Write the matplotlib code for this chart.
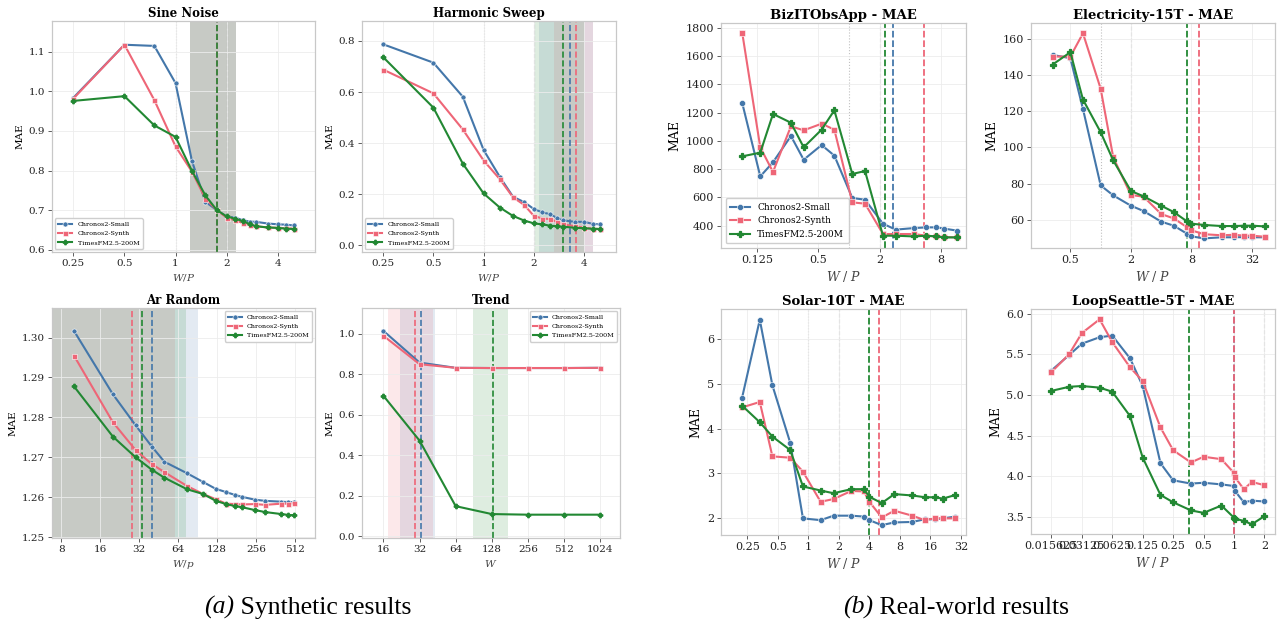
"""
Window-size sweep: MAE vs W/P on synthetic and real-world series.
"""

import numpy as np
import matplotlib
matplotlib.use("Agg")
import matplotlib.pyplot as plt
from matplotlib.ticker import FuncFormatter, NullLocator, FormatStrFormatter

plt.rcParams["font.family"] = "serif"
plt.rcParams["font.serif"] = ["DejaVu Serif"]
plt.rcParams["mathtext.fontset"] = "dejavuserif"

MODELS = ["Chronos2-Small", "Chronos2-Synth", "TimesFM2.5-200M"]
COLORS = {"Chronos2-Small": "#4477AA", "Chronos2-Synth": "#EE6677", "TimesFM2.5-200M": "#228833"}
MARKERS = {"Chronos2-Small": "o", "Chronos2-Synth": "s", "TimesFM2.5-200M": "P"}
MSCALE = {"Chronos2-Small": 1.0, "Chronos2-Synth": 1.0, "TimesFM2.5-200M": 0.9}
# the filled plus gets an edge in its own colour so its arms stay thick
MEC = {"Chronos2-Small": "white", "Chronos2-Synth": "white", "TimesFM2.5-200M": "#228833"}
MEW = {"Chronos2-Small": 0.4, "Chronos2-Synth": 0.4, "TimesFM2.5-200M": 0.9}

# ---- synthetic: sine noise / harmonic sweep (x = W/P) ----------------
syn_x = [0.25, 0.5, 0.75, 1.0, 1.25, 1.5, 1.75, 2.0, 2.25, 2.5, 2.75, 3.0, 3.5, 4.0, 4.5, 5.0]

sine_small = [0.984, 1.118, 1.115, 1.021, 0.824, 0.721, 0.700, 0.683, 0.681, 0.674, 0.671, 0.670, 0.666, 0.664, 0.663, 0.661]
sine_synth = [0.982, 1.118, 0.978, 0.861, 0.797, 0.729, 0.700, 0.681, 0.674, 0.667, 0.662, 0.659, 0.656, 0.655, 0.654, 0.653]
sine_tfm = [0.976, 0.988, 0.914, 0.885, 0.799, 0.737, 0.700, 0.684, 0.678, 0.672, 0.664, 0.659, 0.656, 0.655, 0.653, 0.652]

harm_small = [0.787, 0.715, 0.582, 0.373, 0.268, 0.190, 0.169, 0.142, 0.129, 0.122, 0.107, 0.098, 0.092, 0.092, 0.084, 0.082]
harm_synth = [0.688, 0.595, 0.454, 0.332, 0.259, 0.188, 0.158, 0.115, 0.105, 0.103, 0.092, 0.082, 0.075, 0.069, 0.065, 0.064]
harm_tfm = [0.737, 0.539, 0.320, 0.203, 0.148, 0.115, 0.097, 0.086, 0.082, 0.077, 0.075, 0.073, 0.069, 0.067, 0.065, 0.064]

# ---- synthetic: AR random (x = W/p) ---------------------------------
ar_x = [10, 20, 30, 40, 50, 75, 100, 125, 150, 175, 200, 250, 300, 400, 450, 500]
ar_small = [1.3017, 1.2858, 1.2780, 1.2727, 1.2689, 1.2660, 1.2638, 1.2621, 1.2613, 1.2606, 1.2601, 1.2594, 1.2591, 1.2589, 1.2588, 1.2588]
ar_synth = [1.2955, 1.2788, 1.2718, 1.2683, 1.2663, 1.2628, 1.2608, 1.2595, 1.2584, 1.2583, 1.2582, 1.2583, 1.2581, 1.2584, 1.2584, 1.2585]
ar_tfm = [1.2878, 1.2752, 1.2700, 1.2669, 1.2649, 1.2620, 1.2608, 1.2591, 1.2583, 1.2578, 1.2575, 1.2568, 1.2563, 1.2558, 1.2556, 1.2555]

# ---- synthetic: trend (x = W) ----------------------------------------
trend_x = [16, 32, 64, 128, 256, 512, 1024]
trend_small = [1.013, 0.857, 0.831, 0.830, 0.830, 0.830, 0.831]
trend_synth = [0.989, 0.849, 0.831, 0.830, 0.830, 0.830, 0.831]
trend_tfm = [0.693, 0.472, 0.149, 0.110, 0.107, 0.107, 0.107]

# predicted best window (dashed) and its range (shaded), per model
sine_best = {"Chronos2-Small": (1.75, 1.22, 2.28), "Chronos2-Synth": (1.75, 1.21, 2.27), "TimesFM2.5-200M": (1.75, 1.22, 2.27)}
harm_best = {"Chronos2-Small": (3.3, 2.14, 4.5), "Chronos2-Synth": (3.57, 2.65, 4.5), "TimesFM2.5-200M": (3.0, 2.0, 4.0)}
ar_best = {"Chronos2-Small": (40, 4, 91.3), "Chronos2-Synth": (28.1, 4, 60.4), "TimesFM2.5-200M": (33.6, 4, 73.4)}
trend_best = {"Chronos2-Small": (32.8, 22.1, 43.3), "Chronos2-Synth": (29.3, 17.4, 41.2), "TimesFM2.5-200M": (132, 89.4, 175.5)}

# ---- real-world datasets ---------------------------------------------
biz_x = [0.09, 0.135, 0.18, 0.27, 0.36, 0.54, 0.72, 1.08, 1.44, 2.16, 2.88, 4.32, 5.76, 7.2, 8.64, 11.52]
biz_small = [1266, 749, 849, 1035, 867, 971, 896, 596, 584, 414, 372, 383, 388, 388, 379, 365]
biz_synth = [1762, 955, 780, 1104, 1075, 1122, 1080, 565, 556, 341, 341, 341, 329, 324, 320, 317]
biz_tfm = [891, 917, 1191, 1129, 955, 1080, 1217, 766, 787, 329, 329, 324, 329, 324, 317, 317]

elec_x = [0.333, 0.5, 0.667, 1.0, 1.333, 2.0, 2.667, 4.0, 5.333, 7.2, 8.0, 10.67, 16.0, 21.33, 26.67, 32.0, 42.67]
elec_small = [151.0, 149.2, 121.2, 79.1, 73.6, 67.9, 65.0, 59.1, 56.9, 52.5, 51.0, 49.9, 50.5, 50.5, 50.6, 50.5, 50.5]
elec_synth = [150.1, 150.1, 162.9, 132.4, 94.6, 73.8, 72.9, 63.3, 60.9, 56.1, 54.3, 52.2, 51.6, 51.9, 51.4, 51.4, 50.8]
elec_tfm = [145.7, 152.5, 126.4, 108.4, 92.9, 76.0, 73.1, 67.9, 64.4, 59.3, 58.0, 57.3, 56.7, 56.7, 56.9, 56.9, 56.5]

solar_x = [0.221, 0.331, 0.441, 0.662, 0.883, 1.32, 1.77, 2.65, 3.53, 4.0, 5.3, 7.06, 10.6, 14.1, 17.7, 21.2, 28.3]
solar_small = [4.68, 6.42, 4.96, 3.68, 2.00, 1.96, 2.06, 2.06, 2.04, 1.96, 1.85, 1.91, 1.92, 1.98, 1.98, 2.00, 2.04]
solar_synth = [4.47, 4.59, 3.38, 3.35, 3.04, 2.37, 2.43, 2.61, 2.60, 2.37, 2.02, 2.17, 2.06, 1.96, 2.00, 2.00, 2.00]
solar_tfm = [4.51, 4.14, 3.82, 3.52, 2.71, 2.62, 2.56, 2.65, 2.65, 2.48, 2.34, 2.54, 2.51, 2.47, 2.47, 2.44, 2.52]

loop_x = [0.015625, 0.0234, 0.03125, 0.0469, 0.0625, 0.09375, 0.125, 0.1875, 0.25, 0.375, 0.5, 0.75, 1.0, 1.02, 1.25, 1.5, 2.0]
loop_small = [5.30, 5.49, 5.63, 5.71, 5.73, 5.45, 5.11, 4.16, 3.95, 3.91, 3.92, 3.90, 3.88, 3.82, 3.68, 3.70, 3.69]
loop_synth = [5.28, 5.50, 5.76, 5.93, 5.65, 5.34, 5.17, 4.60, 4.32, 4.17, 4.24, 4.21, 4.04, 3.99, 3.84, 3.93, 3.89]
loop_tfm = [5.05, 5.10, 5.11, 5.09, 5.04, 4.74, 4.23, 3.77, 3.68, 3.58, 3.55, 3.64, 3.49, 3.48, 3.45, 3.41, 3.51]

biz_best = {"Chronos2-Small": 2.71, "Chronos2-Synth": 5.51, "TimesFM2.5-200M": 2.24}
elec_best = {"Chronos2-Synth": 9.46, "TimesFM2.5-200M": 7.19}
solar_best = {"Chronos2-Synth": 4.95, "TimesFM2.5-200M": 3.97}
loop_best = {"Chronos2-Small": 1.0, "Chronos2-Synth": 1.0, "TimesFM2.5-200M": 0.357}

W, H = 1280, 619
fig = plt.figure(figsize=(W / 100, H / 100), dpi=100)


def box(l, t, r, b):
    return [l / W, 1 - b / H, (r - l) / W, (b - t) / H]


def style_axes(ax, xticks, xlim, ylim, yticks, yfmt, tsize=7.5):
    ax.set_xscale("log", base=2)
    ax.set_xticks(xticks)
    ax.xaxis.set_major_formatter(FuncFormatter(lambda v, _: f"{v:g}"))
    ax.xaxis.set_minor_locator(NullLocator())
    ax.set_xlim(*xlim)
    ax.set_ylim(*ylim)
    ax.set_yticks(yticks)
    ax.yaxis.set_major_formatter(FormatStrFormatter(yfmt))
    ax.grid(True, color="#ececec", lw=0.6)
    ax.set_axisbelow(True)
    for sp in ax.spines.values():
        sp.set_color("#c8c8c8")
        sp.set_linewidth(0.9)
    ax.tick_params(labelsize=tsize, length=3, width=0.6, color="#444444",
                   labelcolor="#222222", pad=2)


def plot_models(ax, x, ys, lw, ms):
    for name, y in zip(MODELS, ys):
        ax.plot(x, y, color=COLORS[name], marker=MARKERS[name], lw=lw,
                ms=ms * MSCALE[name], mec=MEC[name], mew=MEW[name], label=name, zorder=3)


def ref_lines(ax):
    ax.axvline(1, color="#c0c0c0", lw=0.8, ls=":", zorder=0.3)
    ax.axvline(2, color="#c0c0c0", lw=0.8, ls="--", zorder=0.3)


def synth_panel(rect, title, x, ys, best, xlabel, xticks, xlim, ylim, yticks, yfmt,
                legend_loc, refs=True):
    ax = fig.add_axes(box(*rect))
    if refs:
        ref_lines(ax)
    for name in MODELS:
        c, lo, hi = best[name]
        ax.axvspan(lo, hi, color=COLORS[name], alpha=0.15, lw=0, zorder=0.5)
    for name in MODELS:
        ax.axvline(best[name][0], color=COLORS[name], lw=1.2, ls="--", zorder=2)
    plot_models(ax, x, ys, lw=1.5, ms=3.6)
    style_axes(ax, xticks, xlim, ylim, yticks, yfmt)
    ax.set_title(title, fontsize=8.5, fontweight="bold", pad=3)
    ax.set_xlabel(xlabel, fontsize=7.5, color="#444444", labelpad=3)
    ax.set_ylabel("MAE", fontsize=7.5, labelpad=3)
    ax.legend(loc=legend_loc, fontsize=4.6, handlelength=2.2, borderpad=0.5,
              labelspacing=0.6, framealpha=0.95, edgecolor="#cccccc")
    return ax


def real_panel(rect, title, x, ys, best, xticks, xlim, ylim, yticks, yfmt, legend=False):
    ax = fig.add_axes(box(*rect))
    ref_lines(ax)
    for name in MODELS:
        if name in best:
            ax.axvline(best[name], color=COLORS[name], lw=1.3, ls="--", zorder=2)
    plot_models(ax, x, ys, lw=1.5, ms=4.4)
    style_axes(ax, xticks, xlim, ylim, yticks, yfmt, tsize=8)
    ax.set_title(title, fontsize=9.5, fontweight="bold", pad=3)
    ax.set_xlabel(r"$W\ /\ P$", fontsize=9, color="#444444", labelpad=3)
    ax.set_ylabel("MAE", fontsize=9, labelpad=3)
    if legend:
        ax.legend(loc="lower left", fontsize=6.5, handlelength=2.2, borderpad=0.5,
                  labelspacing=0.5, framealpha=0.95, edgecolor="#cccccc")
    return ax


# (a) synthetic
synth_panel((52, 21, 315, 252), "Sine Noise", syn_x, [sine_small, sine_synth, sine_tfm],
            sine_best, r"$W/P$", [0.25, 0.5, 1, 2, 4], (0.187, 6.64), (0.594, 1.178),
            np.arange(0.6, 1.15, 0.1), "%.1f", "lower left")
synth_panel((362, 21, 616, 252), "Harmonic Sweep", syn_x, [harm_small, harm_synth, harm_tfm],
            harm_best, r"$W/P$", [0.25, 0.5, 1, 2, 4], (0.187, 6.2), (-0.026, 0.878),
            np.arange(0.0, 0.85, 0.2), "%.1f", "lower left")
synth_panel((52, 308, 315, 538), "Ar Random", ar_x, [ar_small, ar_synth, ar_tfm],
            ar_best, r"$W/p$", [8, 16, 32, 64, 128, 256, 512], (6.77, 730), (1.2498, 1.3074),
            np.arange(1.25, 1.3005, 0.01), "%.2f", "upper right", refs=False)
synth_panel((362, 308, 620, 538), "Trend", trend_x, [trend_small, trend_synth, trend_tfm],
            trend_best, r"$W$", [16, 32, 64, 128, 256, 512, 1024], (10.6, 1500), (-0.008, 1.126),
            np.arange(0.0, 1.05, 0.2), "%.1f", "upper right", refs=False)

# (b) real world
real_panel((721, 23, 966, 248), "BizITObsApp - MAE", biz_x, [biz_small, biz_synth, biz_tfm],
           biz_best, [0.125, 0.5, 2, 8], (0.0556, 14.1), (242, 1835),
           np.arange(400, 1801, 200), "%d", legend=True)
real_panel((1031, 23, 1275, 248), "Electricity-15T - MAE", elec_x, [elec_small, elec_synth, elec_tfm],
           elec_best, [0.5, 2, 8, 32], (0.203, 54.1), (44.6, 168.6),
           np.arange(60, 161, 20), "%d")
real_panel((721, 309, 966, 535), "Solar-10T - MAE", solar_x, [solar_small, solar_synth, solar_tfm],
           solar_best, [0.25, 0.5, 1, 2, 4, 8, 16, 32], (0.137, 36), (1.63, 6.66),
           np.arange(2, 6.5, 1), "%d")
real_panel((1031, 309, 1275, 534), "LoopSeattle-5T - MAE", loop_x, [loop_small, loop_synth, loop_tfm],
           loop_best, [0.015625, 0.03125, 0.0625, 0.125, 0.25, 0.5, 1, 2], (0.00984, 2.54), (3.29, 6.057),
           np.arange(3.5, 6.05, 0.5), "%.1f")

# sub-captions
for x0, tag, rest in [(204 / W, "(a)", " Synthetic results"), (843 / W, "(b)", " Real-world results")]:
    t = fig.text(x0, 1 - 614 / H, tag, fontsize=18.5, family="Liberation Serif",
                 style="italic", va="baseline")
    plt.annotate(rest, xy=(1, 0), xycoords=t, fontsize=18.5, family="Liberation Serif",
                 va="bottom", annotation_clip=False)

fig.savefig("out.png", dpi=100)
